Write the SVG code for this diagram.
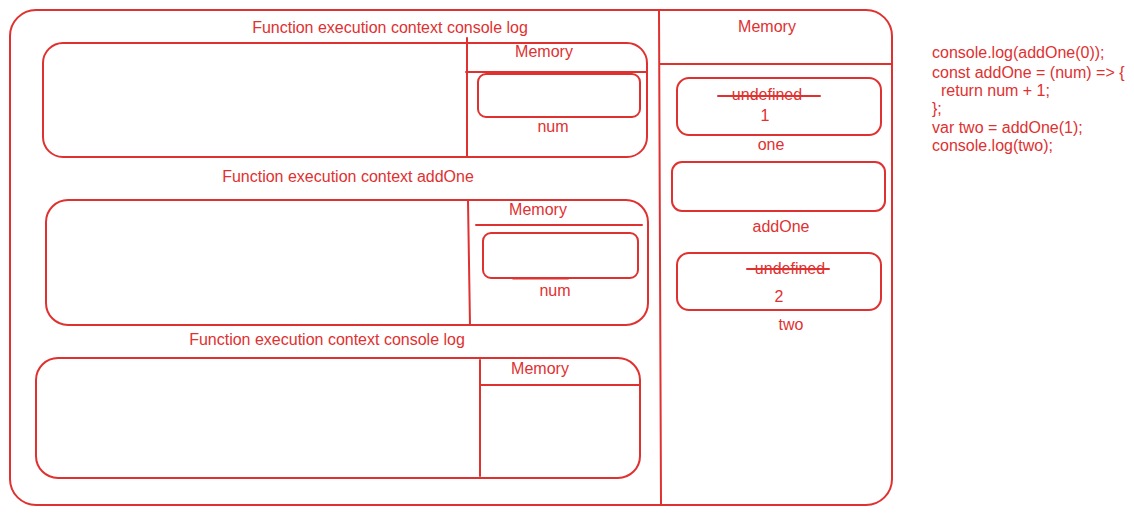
<svg xmlns="http://www.w3.org/2000/svg" width="1134" height="515" viewBox="0 0 1134 515">
<style>
.s{fill:none;stroke:#e03131;stroke-width:2;stroke-linecap:round}
.t{fill:#e03131;font-family:"Liberation Sans",Arial,sans-serif;font-size:16px}
.c{text-anchor:middle}
</style>
<rect width="1134" height="515" fill="#fff"/>
<g id="global-context">
<rect class="s" x="10" y="10" width="882" height="495" rx="26"/>
<line class="s" x1="659" y1="11" x2="661" y2="504"/>
<line class="s" x1="660" y1="64" x2="891" y2="64"/>
<text class="t c" x="767" y="32">Memory</text>
</g>
<g id="fec1">
<text class="t c" x="390" y="33">Function execution context console log</text>
<rect class="s" x="43" y="43" width="604" height="114" rx="20"/>
<line class="s" x1="467" y1="38" x2="467" y2="156"/>
<line class="s" x1="466" y1="72" x2="647" y2="72"/>
<text class="t c" x="544" y="57">Memory</text>
<rect class="s" x="478" y="74" width="162" height="43" rx="8"/>
<text class="t c" x="553" y="132">num</text>
</g>
<g id="fec2">
<text class="t c" x="348" y="182">Function execution context addOne</text>
<rect class="s" x="46" y="200" width="602" height="125" rx="22"/>
<line class="s" x1="468" y1="201" x2="470" y2="325"/>
<line class="s" x1="476" y1="225" x2="642" y2="225"/>
<text class="t c" x="538" y="215">Memory</text>
<rect class="s" x="483" y="233" width="155" height="45" rx="8"/>
<line class="s" x1="513" y1="278.5" x2="568" y2="278.5" stroke-width="3"/>
<text class="t c" x="555" y="296">num</text>
</g>
<g id="fec3">
<text class="t c" x="327" y="345">Function execution context console log</text>
<rect class="s" x="36" y="358" width="604" height="120" rx="22"/>
<line class="s" x1="480" y1="360" x2="480" y2="476"/>
<line class="s" x1="480" y1="385" x2="639" y2="385"/>
<text class="t c" x="540" y="374">Memory</text>
</g>
<g id="var-one">
<rect class="s" x="677" y="78" width="204" height="57" rx="12"/>
<text class="t c" x="767" y="100">undefined</text>
<line class="s" x1="718" y1="96" x2="820" y2="96"/>
<text class="t c" x="765" y="121">1</text>
<text class="t c" x="771" y="150">one</text>
</g>
<g id="var-addOne">
<rect class="s" x="672" y="162" width="213" height="49" rx="10"/>
<text class="t c" x="781" y="232">addOne</text>
</g>
<g id="var-two">
<rect class="s" x="677" y="253" width="204" height="57" rx="12"/>
<text class="t c" x="790" y="274">undefined</text>
<line class="s" x1="747" y1="269" x2="829" y2="269"/>
<text class="t c" x="779" y="302">2</text>
<text class="t c" x="791" y="330">two</text>
</g>
<g id="code">
<text class="t" x="932" y="58">console.log(addOne(0));</text>
<text class="t" x="932" y="78">const addOne = (num) =&gt; {</text>
<text class="t" x="941" y="96">return num + 1;</text>
<text class="t" x="932" y="114">};</text>
<text class="t" x="932" y="133">var two = addOne(1);</text>
<text class="t" x="932" y="151">console.log(two);</text>
</g>
<g id="connectors"/>
</svg>
